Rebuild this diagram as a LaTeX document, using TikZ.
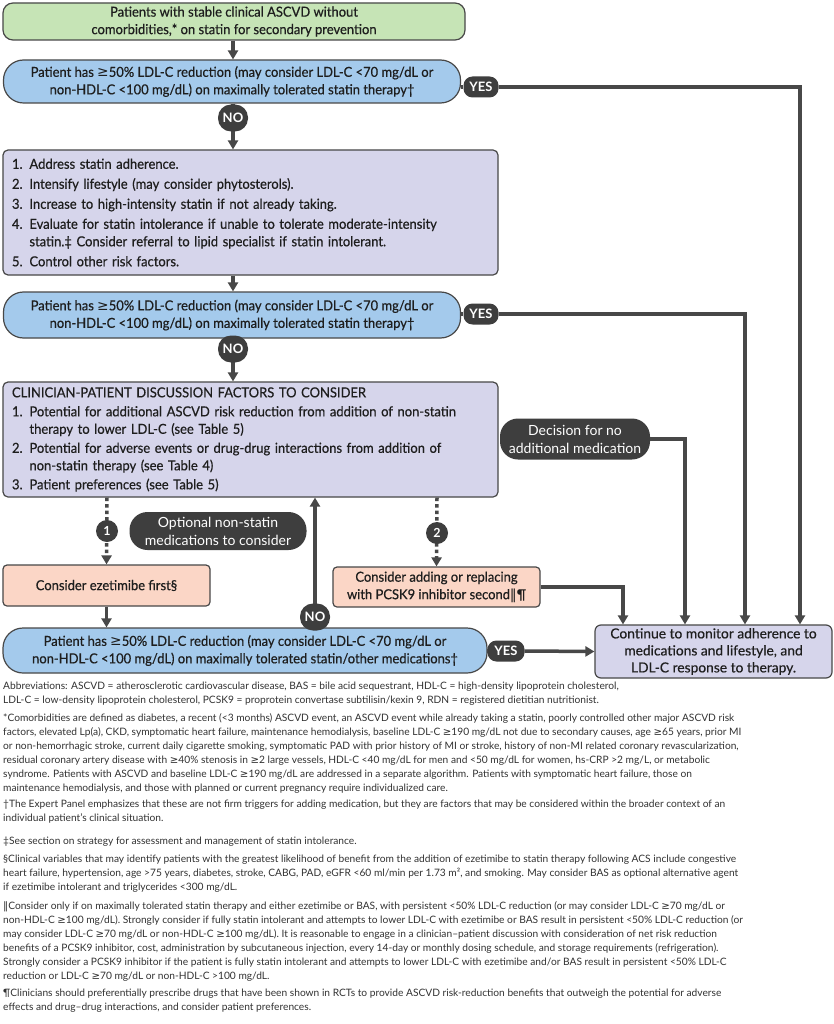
\documentclass[tikz,border=0pt]{standalone}
\usepackage{fontspec}
\setmainfont{Lato}
\newfontfamily\boxf[FakeStretch=0.94,FakeBold=0.5]{Lato}
\newfontfamily\monf[FakeBold=0.5]{Lato}
\newfontfamily\symf{DejaVu Sans}
\usetikzlibrary{arrows.meta,calc}
\newcommand{\gte}{{\symf ≥}}
\newcommand{\dbar}{{\symf ‖}}
\definecolor{grn}{RGB}{198,228,182}
\definecolor{blu}{RGB}{164,202,236}
\definecolor{lav}{RGB}{214,213,235}
\definecolor{pch}{RGB}{251,214,198}
\definecolor{dk}{RGB}{62,62,62}
\definecolor{ln}{RGB}{72,72,72}
\definecolor{ft}{RGB}{50,50,50}
\definecolor{tx}{RGB}{30,30,30}
\begin{document}
\begin{tikzpicture}[x=1pt,y=-1pt,
 line/.style={draw=ln, line width=3.5pt},
 arr/.style={line, -{Triangle[length=9pt,width=10pt]}},
 dotarr/.style={line, dash pattern=on 3.5pt off 3pt, -{Triangle[length=9pt,width=10pt]}},
 boxbase/.style={draw=ln, line width=1.2pt, text=tx, font=\boxf\fontsize{13.8}{17.5}\selectfont, align=center, inner sep=2pt},
 greenbox/.style={boxbase, fill=grn, rounded corners=10pt},
 bluebox/.style={boxbase, fill=blu, rounded corners=20pt},
 lavbox/.style={boxbase, fill=lav, rounded corners=5pt},
 peachbox/.style={boxbase, fill=pch, rounded corners=4pt},
 pill/.style={fill=dk, text=white, rounded corners=9pt, font=\bfseries\fontsize{13}{14}\selectfont, inner sep=1pt},
 nopill/.style={pill, minimum width=30pt, minimum height=27pt, rounded corners=13pt},
 yespill/.style={pill, minimum width=35pt, minimum height=21pt},
 bigpill/.style={fill=dk, text=white, rounded corners=18pt, font=\fontsize{14}{18}\selectfont, align=center, inner sep=2pt},
 numc/.style={circle, fill=dk, text=white, font=\bfseries\fontsize{12.5}{13}\selectfont, minimum size=22pt, inner sep=0pt},
 foot/.style={anchor=north west, align=left, inner sep=0pt, text=ft, font=\fontsize{10.2}{14}\selectfont}
]
\useasboundingbox[fill=white] (0,0) rectangle (834,1024);

% boxes
\node[greenbox, minimum width=462pt, minimum height=37pt] (start) at (234,21.5)
  {Patients with stable clinical ASCVD without\\comorbidities,* on statin for secondary prevention};
\node[bluebox, minimum width=457pt, minimum height=43pt] (q1) at (232,81.5)
  {Patient has \gte50\% LDL-C reduction (may consider LDL-C <70 mg/dL or\\non-HDL-C <100 mg/dL) on maximally tolerated statin therapy†};
\node[lavbox, minimum width=495pt, minimum height=125pt, inner xsep=9pt, text width=477pt, align=left] (act) at (250.5,212.5)
  {1. Address statin adherence.\\[2.5pt]
   2. Intensify lifestyle (may consider phytosterols).\\[2.5pt]
   3. Increase to high-intensity statin if not already taking.\\[2.5pt]
   4. Evaluate for statin intolerance if unable to tolerate moderate-intensity\\
   \phantom{4. }statin.‡ Consider referral to lipid specialist if statin intolerant.\\[2.5pt]
   5. Control other risk factors.};
\node[bluebox, minimum width=457pt, minimum height=46pt] (q2) at (232,315)
  {Patient has \gte50\% LDL-C reduction (may consider LDL-C <70 mg/dL or\\non-HDL-C <100 mg/dL) on maximally tolerated statin therapy†};
\node[lavbox, minimum width=495pt, minimum height=115pt, inner xsep=9pt, text width=477pt, align=left] (disc) at (250.5,439.5)
  {CLINICIAN-PATIENT DISCUSSION FACTORS TO CONSIDER\\[1.5pt]
   1. Potential for additional ASCVD risk reduction from addition of non-statin\\
   \phantom{1. }therapy to lower LDL-C (see Table 5)\\[1.5pt]
   2. Potential for adverse events or drug-drug interactions from addition of\\
   \phantom{2. }non-statin therapy (see Table 4)\\[1.5pt]
   3. Patient preferences (see Table 5)};
\node[peachbox, minimum width=207pt, minimum height=41pt] (eze) at (106.5,585.5)
  {Consider ezetimibe first§};
\node[peachbox, minimum width=207pt, minimum height=40pt] (pcsk) at (436.5,587)
  {Consider adding or replacing\\with PCSK9 inhibitor second\dbar¶};
\node[bluebox, minimum width=484pt, minimum height=45pt] (q3) at (245,650.5)
  {Patient has \gte50\% LDL-C reduction (may consider LDL-C <70 mg/dL or\\non-HDL-C <100 mg/dL) on maximally tolerated statin/other medications†};
\node[lavbox, minimum width=237pt, minimum height=53pt, rounded corners=6pt, font=\monf\fontsize{13.8}{17}\selectfont] (mon) at (713.5,651.5)
  {Continue to monitor adherence to\\medications and lifestyle, and\\LDL-C response to therapy.};

% columns for vertical connectors
\coordinate (m) at (233,0);
\coordinate (k1) at (800,0);
\coordinate (k2) at (745,0);
\coordinate (k3) at (685,0);
\coordinate (k4) at (623,0);
\coordinate (d1) at (107,0);
\coordinate (d2) at (437,0);
\coordinate (u3) at (315,0);

% pills that start connectors
\node[yespill] (yes1) at (481,87) {YES};
\node[yespill] (yes2) at (481,314) {YES};
\node[yespill, minimum width=37pt] (yes3) at (506,651) {YES};
\node[bigpill, minimum width=150pt, minimum height=41pt] (dec) at (575,439) {Decision for no\\additional medication};

% connectors
\draw[arr] (m |- start.south) -- (m |- q1.north);
\draw[arr] (m |- q1.south) -- (m |- act.north);
\draw[arr] (m |- act.south) -- (m |- q2.north);
\draw[arr] (m |- q2.south) -- (m |- disc.north);
\draw[line] (q1.east |- yes1) -- (yes1.west);
\draw[arr] (yes1.east) -| (k1 |- mon.north);
\draw[line] (q2.east |- yes2) -- (yes2.west);
\draw[arr] (yes2.east) -| (k2 |- mon.north);
\draw[arr] (dec.east) -| (k3 |- mon.north);
\draw[arr] (pcsk.east) -| (k4 |- mon.north);
\draw[dotarr] (d1 |- disc.south) -- (eze.north);
\draw[dotarr] (d2 |- disc.south) -- (pcsk.north);
\draw[arr] (eze.south) -- (eze.south |- q3.north);
\draw[arr] (u3 |- q3.north) -- (u3 |- disc.south);
\draw[line] (q3.east |- yes3) -- (yes3.west);
\draw[arr] (yes3.east) -- (mon.west);

% labels sitting on connectors
\node[nopill] (no1) at (233,118) {NO};
\node[nopill] (no2) at (233,349) {NO};
\node[nopill] (no3) at (315,617) {NO};
\node[numc] (n1) at (107,531) {1};
\node[numc] (n2) at (437,533) {2};
\node[bigpill, minimum width=177pt, minimum height=38pt] (opt) at (218,531) {Optional non-statin\\medications to consider};

% footnotes
\node[foot] (f1) at (3,682) {Abbreviations: ASCVD = atherosclerotic cardiovascular disease, BAS = bile acid sequestrant, HDL-C = high-density lipoprotein cholesterol,\\
LDL-C = low-density lipoprotein cholesterol, PCSK9 = proprotein convertase subtilisin/kexin 9, RDN = registered dietitian nutritionist.};
\node[foot] (f2) at (3,713) {*Comorbidities are defined as diabetes, a recent (<3 months) ASCVD event, an ASCVD event while already taking a statin, poorly controlled other major ASCVD risk\\
factors, elevated Lp(a), CKD, symptomatic heart failure, maintenance hemodialysis, baseline LDL-C \gte190 mg/dL not due to secondary causes, age \gte65 years, prior MI\\
or non-hemorrhagic stroke, current daily cigarette smoking, symptomatic PAD with prior history of MI or stroke, history of non-MI related coronary revascularization,\\
residual coronary artery disease with \gte40\% stenosis in \gte2 large vessels, HDL-C <40 mg/dL for men and <50 mg/dL for women, hs-CRP >2 mg/L, or metabolic\\
syndrome. Patients with ASCVD and baseline LDL-C \gte190 mg/dL are addressed in a separate algorithm. Patients with symptomatic heart failure, those on\\
maintenance hemodialysis, and those with planned or current pregnancy require individualized care.};
\node[foot] (f3) at (3,800) {†The Expert Panel emphasizes that these are not firm triggers for adding medication, but they are factors that may be considered within the broader context of an\\
individual patient’s clinical situation.};
\node[foot] (f4) at (3,837) {‡See section on strategy for assessment and management of statin intolerance.};
\node[foot] (f5) at (3,855) {§Clinical variables that may identify patients with the greatest likelihood of benefit from the addition of ezetimibe to statin therapy following ACS include congestive\\
heart failure, hypertension, age >75 years, diabetes, stroke, CABG, PAD, eGFR <60 ml/min per 1.73 m², and smoking. May consider BAS as optional alternative agent\\
if ezetimibe intolerant and triglycerides <300 mg/dL.};
\node[foot] (f6) at (3,901) {\dbar Consider only if on maximally tolerated statin therapy and either ezetimibe or BAS, with persistent <50\% LDL-C reduction (or may consider LDL-C \gte70 mg/dL or\\
non-HDL-C \gte100 mg/dL). Strongly consider if fully statin intolerant and attempts to lower LDL-C with ezetimibe or BAS result in persistent <50\% LDL-C reduction (or\\
may consider LDL-C \gte70 mg/dL or non-HDL-C \gte100 mg/dL). It is reasonable to engage in a clinician–patient discussion with consideration of net risk reduction\\
benefits of a PCSK9 inhibitor, cost, administration by subcutaneous injection, every 14-day or monthly dosing schedule, and storage requirements (refrigeration).\\
Strongly consider a PCSK9 inhibitor if the patient is fully statin intolerant and attempts to lower LDL-C with ezetimibe and/or BAS result in persistent <50\% LDL-C\\
reduction or LDL-C \gte70 mg/dL or non-HDL-C >100 mg/dL.};
\node[foot] (f7) at (3,989) {¶Clinicians should preferentially prescribe drugs that have been shown in RCTs to provide ASCVD risk-reduction benefits that outweigh the potential for adverse\\
effects and drug–drug interactions, and consider patient preferences.};
\end{tikzpicture}
\end{document}
